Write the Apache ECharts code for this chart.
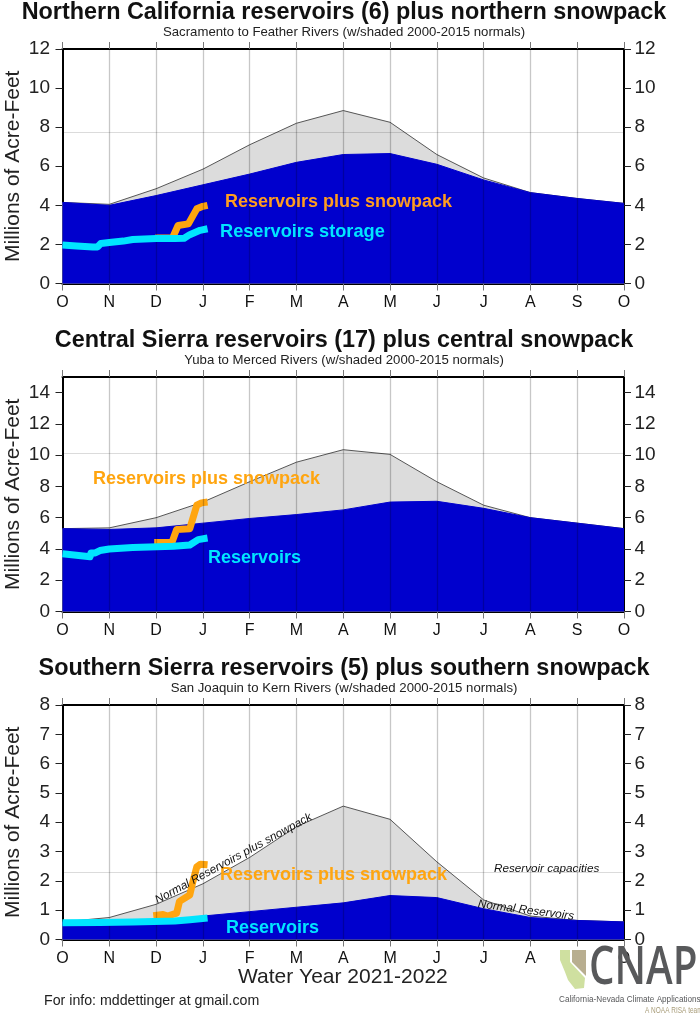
<!DOCTYPE html>
<html>
<head>
<meta charset="utf-8">
<style>
  html, body { margin: 0; padding: 0; background: #fff; }
  #chart { width: 700px; height: 1015px; }
</style>
<script src="https://cdn.jsdelivr.net/npm/echarts@6/dist/echarts.min.js"></script>
</head>
<body>
<div id="chart"></div>
<script>
var monthLabels = ['O','N','D','J','F','M','A','M','J','J','A','S','O'];
var monthTicks = [0,1,2,3,4,5,6,7,8,9,10,11,12];

// north panel
var northTicks = [0,2,4,6,8,10,12];
var northTotalNormal = [4.15,4.05,4.85,5.85,7.1,8.2,8.85,8.25,6.6,5.4,4.65,4.35,4.1];
var northResNormal = [4.15,4.0,4.5,5.05,5.6,6.2,6.6,6.65,6.1,5.3,4.65,4.35,4.1];
var northStorageT = [0,0.3,0.65,0.75,0.82,1.0,1.3,1.5,2.0,2.3,2.4,2.6,2.72,2.94,3.1];
var northStorage = [1.97,1.92,1.87,1.87,2.05,2.1,2.17,2.25,2.3,2.3,2.3,2.32,2.5,2.72,2.8];
var northTotalT = [1.98,2.35,2.47,2.69,2.87,3.0,3.1];
var northTotal = [2.33,2.33,2.97,3.05,3.82,3.95,4.0];

// central panel
var centralTicks = [0,2,4,6,8,10,12,14];
var centralTotalNormal = [5.3,5.35,6.0,7.0,8.3,9.55,10.35,10.05,8.3,6.8,6.0,5.65,5.3];
var centralResNormal = [5.3,5.25,5.35,5.65,5.95,6.2,6.5,7.0,7.05,6.6,6.0,5.65,5.3];
var centralStorageT = [0,0.59,0.61,0.7,0.8,1.0,1.5,2.37,2.72,2.9,3.1];
var centralStorage = [3.7,3.5,3.75,3.75,3.9,4.0,4.1,4.17,4.25,4.6,4.7];
var centralTotalT = [1.96,2.34,2.44,2.72,2.87,2.97,3.1];
var centralTotal = [4.42,4.42,5.25,5.3,6.8,6.95,7.0];

// south panel
var southTicks = [0,1,2,3,4,5,6,7,8];
var southTotalNormal = [0.6,0.75,1.2,1.9,2.8,3.85,4.55,4.1,2.65,1.35,0.8,0.65,0.6];
var southResNormal = [0.6,0.55,0.6,0.8,0.95,1.1,1.25,1.5,1.43,1.05,0.75,0.65,0.6];
var southStorageT = [0,0.8,1.5,2.4,2.72,3.1];
var southStorage = [0.57,0.58,0.6,0.63,0.67,0.73];
var southTotalT = [1.94,2.15,2.25,2.44,2.5,2.72,2.78,2.87,2.95,3.1];
var southTotal = [0.81,0.85,0.8,0.9,1.3,1.52,1.93,2.48,2.57,2.55];

var panels = [
  { top: 49, max: 12, ticks: northTicks, capacity: 7.74, total: northTotalNormal, res: northResNormal,
    storageT: northStorageT, storage: northStorage, nowT: northTotalT, now: northTotal,
    title: 'Northern California reservoirs (6) plus northern snowpack',
    sub: 'Sacramento to Feather Rivers (w/shaded 2000-2015 normals)', titleTop: 1.5 },
  { top: 377, max: 15, ticks: centralTicks, capacity: 10.1, total: centralTotalNormal, res: centralResNormal,
    storageT: centralStorageT, storage: centralStorage, nowT: centralTotalT, now: centralTotal,
    title: 'Central Sierra reservoirs (17) plus central snowpack',
    sub: 'Yuba to Merced Rivers (w/shaded 2000-2015 normals)', titleTop: 329.5 },
  { top: 705, max: 8, ticks: southTicks, capacity: 2.3, total: southTotalNormal, res: southResNormal,
    storageT: southStorageT, storage: southStorage, nowT: southTotalT, now: southTotal,
    title: 'Southern Sierra reservoirs (5) plus southern snowpack',
    sub: 'San Joaquin to Kern Rivers (w/shaded 2000-2015 normals)', titleTop: 657.5 }
];

var FONT = '"Liberation Sans", Helvetica, Arial, sans-serif';
var AXIS_LINE = { show: true, onZero: false, lineStyle: { color: '#000', width: 2 } };
var TICK_STYLE = { color: '#777', width: 1 };

function zip(xs, ys) {
  return xs.map(function(x, i) { return [x, ys[i]]; });
}

var grids = [], xAxes = [], yAxes = [], series = [], titles = [];

panels.forEach(function(p, idx) {
  var xBottom = idx * 2, xTop = xBottom + 1;
  var yLeft = idx * 2, yRight = yLeft + 1;

  grids.push({ left: 62.5, width: 561.5, top: p.top, height: 234.5, containLabel: false, outerBoundsMode: 'none' });

  titles.push({
    text: p.title, subtext: p.sub, left: 344, top: p.titleTop, textAlign: 'center', padding: 0, itemGap: 1.5,
    textStyle: { fontFamily: FONT, fontSize: 23.4, fontWeight: 'bold', color: '#111' },
    subtextStyle: { fontFamily: FONT, fontSize: 13.2, color: '#222' }
  });

  xAxes.push({
    type: 'value', gridIndex: idx, position: 'bottom', min: 0, max: 12, interval: 1,
    axisLine: AXIS_LINE, splitLine: { show: false },
    axisTick: { show: true, length: 7, lineStyle: TICK_STYLE },
    axisLabel: {
      show: true, margin: 11, fontFamily: FONT, fontSize: 16, color: '#111',
      customValues: monthTicks,
      formatter: function(v) { return monthLabels[v]; }
    }
  });
  xAxes.push({
    type: 'value', gridIndex: idx, position: 'top', min: 0, max: 12, interval: 1,
    axisLine: AXIS_LINE, splitLine: { show: false },
    axisTick: { show: true, length: 7, lineStyle: TICK_STYLE },
    axisLabel: { show: false }
  });

  yAxes.push({
    type: 'value', gridIndex: idx, position: 'left', min: 0, max: p.max,
    name: 'Millions of Acre-Feet', nameLocation: 'middle', nameGap: 38.5, nameRotate: 90, nameMoveOverlap: false,
    nameTextStyle: { fontFamily: FONT, fontSize: 21, color: '#222' },
    axisLine: AXIS_LINE, splitLine: { show: false },
    axisTick: { show: true, length: 7, lineStyle: { color: '#222', width: 1 }, customValues: p.ticks },
    axisLabel: { show: true, margin: 12.5, fontFamily: FONT, fontSize: 19, color: '#222', customValues: p.ticks }
  });
  yAxes.push({
    type: 'value', gridIndex: idx, position: 'right', min: 0, max: p.max,
    axisLine: AXIS_LINE, splitLine: { show: false },
    axisTick: { show: true, length: 7, lineStyle: { color: '#222', width: 1 }, customValues: p.ticks },
    axisLabel: { show: true, margin: 10.5, fontFamily: FONT, fontSize: 19, color: '#222', customValues: p.ticks }
  });

  // grid lines sit on top of the grey normals but under the blue ones
  var gridMarks = monthTicks.slice(1, 12).map(function(m) {
    return { xAxis: m, lineStyle: { color: 'rgba(0,0,0,0.22)', width: 1.3, type: 'solid' } };
  });
  gridMarks.push({ yAxis: p.capacity, lineStyle: { color: 'rgba(0,0,0,0.14)', width: 1, type: 'solid' } });

  series.push({
    type: 'line', xAxisIndex: xBottom, yAxisIndex: yLeft, z: 2, symbol: 'none', silent: true,
    data: zip(monthTicks, p.total),
    lineStyle: { color: '#555', width: 1 },
    areaStyle: { color: '#dcdcdc', opacity: 1, origin: 'start' },
    markLine: { silent: true, symbol: 'none', animation: false, label: { show: false }, data: gridMarks }
  });
  series.push({
    type: 'line', xAxisIndex: xBottom, yAxisIndex: yLeft, z: 3, symbol: 'none', silent: true,
    data: zip(monthTicks, p.res),
    lineStyle: { color: '#0000cd', width: 1 },
    areaStyle: { color: '#0000cd', opacity: 1, origin: 'start' }
  });
  series.push({
    type: 'line', xAxisIndex: xBottom, yAxisIndex: yLeft, z: 4, symbol: 'none', silent: true,
    data: zip(p.nowT, p.now),
    lineStyle: { color: '#ffa50f', width: 7, join: 'round', cap: 'butt' }
  });
  series.push({
    type: 'line', xAxisIndex: xBottom, yAxisIndex: yLeft, z: 5, symbol: 'none', silent: true,
    data: zip(p.storageT, p.storage),
    lineStyle: { color: '#00e5ff', width: 7, join: 'round', cap: 'butt' }
  });
  // keeps the mirror axes tied to something
  series.push({ type: 'line', xAxisIndex: xTop, yAxisIndex: yRight, data: [], silent: true });
});

function note(str, x, y, size, color, extra) {
  var st = { text: str, fontFamily: FONT, fontSize: size, fill: color, textAlign: 'left', textVerticalAlign: 'middle' };
  var out = { type: 'text', x: x, y: y, z: 20, silent: true, style: st };
  extra = extra || {};
  if (extra.bold) st.fontWeight = extra.bold === true ? 'bold' : extra.bold;
  if (extra.italic) st.fontStyle = 'italic';
  if (extra.family) st.fontFamily = extra.family;
  if (extra.rotation) out.rotation = extra.rotation;
  if (extra.scaleX) out.scaleX = extra.scaleX;
  return out;
}

var graphics = [
  note('Reservoirs plus snowpack', 225, 202, 18, '#ff9d1e', { bold: true }),
  note('Reservoirs storage', 220, 232, 18.2, '#00e5ff', { bold: true }),
  note('Reservoirs plus snowpack', 93, 479, 18, '#ffa50f', { bold: true }),
  note('Reservoirs', 208, 558, 18, '#00e5ff', { bold: true }),
  note('Reservoirs plus snowpack', 220, 875, 18, '#ffa50f', { bold: true }),
  note('Reservoirs', 226, 928, 18, '#00e5ff', { bold: true }),
  note('Normal Reservoirs plus snowpack', 156, 901, 11.7, '#111', { italic: true, rotation: 0.5 }),
  note('Reservoir capacities', 494, 869, 11.7, '#111', { italic: true }),
  note('Normal Reservoirs', 478, 904, 11.7, '#111', { italic: true, rotation: -0.13 }),
  note('Water Year 2021-2022', 238, 977, 21, '#222'),
  note('For info: mddettinger at gmail.com', 44, 1001, 14.2, '#222'),
  // CNAP logo
  { type: 'polygon', z: 20, silent: true, shape: { points: [[560,950],[570,950],[570,962],[585,978],[584,988],[575,989],[568,980],[565,972],[560,960]] }, style: { fill: '#cfe0a0' } },
  { type: 'polygon', z: 20, silent: true, shape: { points: [[572,950],[586,950],[586,976],[572,962]] }, style: { fill: '#b8ae90' } },
  note('CNAP', 589, 969, 53, '#58595b', { family: '"Open Sans", sans-serif', scaleX: 0.76, bold: 600 }),
  note('California-Nevada Climate Applications Program', 559, 999.5, 9.5, '#58595b', { scaleX: 0.86 }),
  note('A NOAA RISA team', 645, 1011, 9, '#a89c78', { scaleX: 0.72 })
];

var chart = echarts.init(document.getElementById('chart'));
chart.setOption({
  animation: false,
  backgroundColor: '#fff',
  title: titles,
  grid: grids,
  xAxis: xAxes,
  yAxis: yAxes,
  series: series,
  graphic: graphics
});
</script>
</body>
</html>
